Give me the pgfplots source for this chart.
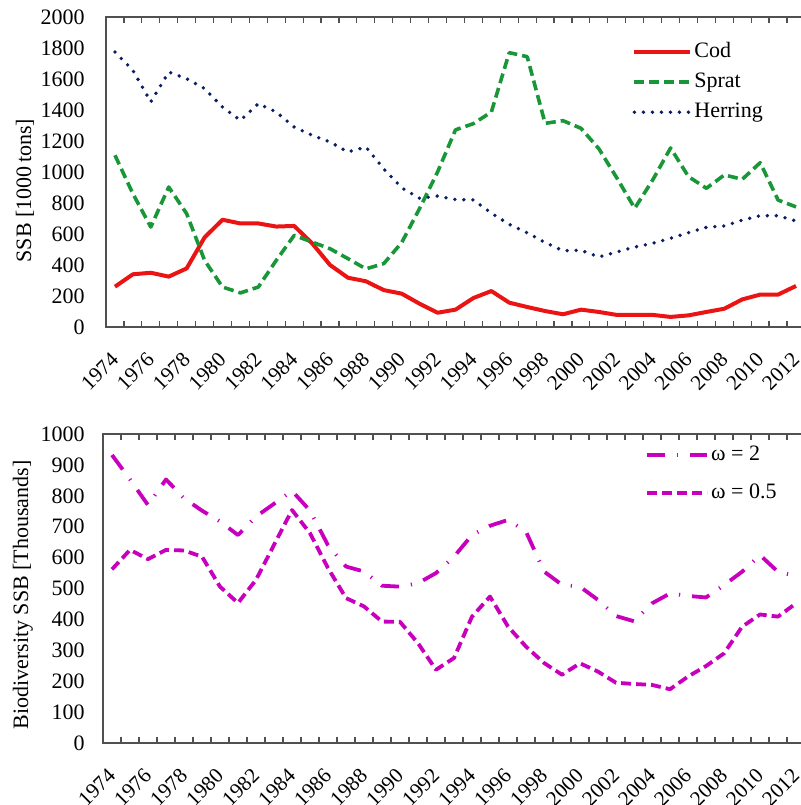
\documentclass[border=0pt]{standalone}
\usepackage{fontspec}
\setmainfont{Liberation Serif}
\usepackage{pgfplots}
\pgfplotsset{compat=1.18}
\definecolor{codred}{RGB}{235,20,20}
\definecolor{spratgreen}{RGB}{25,150,55}
\definecolor{herringblue}{RGB}{10,30,100}
\definecolor{omag}{RGB}{200,0,190}
\definecolor{axgray}{RGB}{80,80,80}

\pgfplotstableread{
year cod sprat herring
1974 260 1108 1774
1975 340 860 1656
1976 350 645 1452
1977 325 903 1645
1978 378 731 1602
1979 578 430 1538
1980 692 258 1419
1981 668 220 1333
1982 668 258 1441
1983 648 430 1387
1984 652 591 1290
1985 540 548 1237
1986 400 505 1194
1987 318 441 1129
1988 295 375 1161
1989 238 409 1020
1990 215 545 898
1991 150 765 830
1992 92 1000 845
1993 112 1272 822
1994 187 1312 820
1995 232 1387 735
1996 157 1770 662
1997 129 1744 608
1998 103 1314 545
1999 82 1331 492
2000 112 1282 495
2001 97 1150 452
2002 78 962 484
2003 78 766 516
2004 78 948 540
2005 65 1155 572
2006 75 970 609
2007 97 895 643
2008 118 981 652
2009 178 953 690
2010 209 1060 718
2011 209 819 718
2012 265 775 684
}\topdata

\pgfplotstableread{
year wtwo whalf
1974 932 562
1975 853 625
1976 770 595
1977 853 625
1978 792 623
1979 752 603
1980 717 506
1981 673 453
1982 733 528
1983 774 641
1984 816 754
1985 752 679
1986 640 566
1987 571 469
1988 555 442
1989 509 393
1990 506 392
1991 517 323
1992 550 237
1993 603 275
1994 673 409
1995 703 474
1996 722 377
1997 684 312
1998 555 259
1999 512 221
2000 506 258
2001 463 231
2002 411 195
2003 394 191
2004 452 188
2005 484 174
2006 476 215
2007 471 249
2008 511 290
2009 554 376
2010 608 416
2011 554 409
2012 540 452
}\botdata

\begin{document}
\begin{tikzpicture}
\useasboundingbox (0,0) rectangle (400pt,402.5pt);
\pgfplotsset{
  common/.style={
    scale only axis,
    xmin=1973.5, xmax=2012.5,
    ymin=0,
    xtick={1974,1976,...,2012},
    minor xtick={1973.5,1974.5,...,2012.5},
    major tick length=0pt,
    minor tick length=3pt,
    tick align=inside,
    ytick style={draw=none},
    xtick style={draw=axgray, line width=0.6pt},
    /pgf/number format/1000 sep={},
    /pgf/number format/assume math mode=true,
    tick label style={font=\fontsize{11}{13}\selectfont, text=black},
    xticklabel style={font=\fontsize{10.6}{12}\selectfont, yshift=-13pt, rotate=45, anchor=east, inner sep=0pt},
    xticklabel shift=1.5pt,
    axis line style={draw=axgray, line width=0.6pt},
    label style={font=\fontsize{11}{13}\selectfont},
    legend style={draw=none, fill=none, font=\fontsize{11}{13}\selectfont,
      anchor=north west, inner sep=0pt, column sep=1pt,
      nodes={inner sep=0pt, text height=7.5pt, text depth=2.2pt}},
    legend cell align=left,
  }
}
% top axis
\begin{axis}[common,
  at={(53pt,239pt)}, anchor=south west,
  width=349.5pt, height=155pt,
  ymax=2000, ytick={0,200,...,2000},
  yticklabel style={xshift=-7.2pt},
  ylabel={SSB [1000\,tons]},
  ylabel style={at={(axis description cs:-0.116,0.44)}, anchor=center},
  legend style={at={(axis description cs:0.7525,0.919)}, row sep=5.3pt},
  legend image code/.code={\draw[#1] (0pt,0pt) -- (28pt,0pt);},
]
\addplot[codred, line width=2pt, line join=round] table[x=year, y=cod] {\topdata};
\addlegendentry{Cod}
\addplot[spratgreen, line width=1.8pt, line join=round, dash pattern=on 5pt off 2.5pt] table[x=year, y=sprat] {\topdata};
\addlegendentry{Sprat}
\addplot[herringblue, line width=1.9pt, line cap=round, dash pattern=on 0pt off 4.5pt] table[x=year, y=herring] {\topdata};
\addlegendentry{Herring}
\end{axis}
% bottom axis
\begin{axis}[common,
  at={(51.5pt,31pt)}, anchor=south west,
  width=351pt, height=154.5pt,
  ymax=1000, ytick={0,100,...,1000},
  yticklabel style={xshift=-5.7pt},
  ylabel={Biodiversity SSB [Thousands]},
  ylabel style={at={(axis description cs:-0.114,0.479)}, anchor=center},
  legend style={at={(axis description cs:0.772,0.965)}, row sep=9.3pt},
  legend image code/.code={\draw[#1] (0pt,0pt) -- (30pt,0pt);},
]
\addplot[omag, line width=1.9pt, line join=round, dash pattern=on 9pt off 6pt on 0.6pt off 6pt] table[x=year, y=wtwo] {\botdata};
\addlegendentry{ω = 2}
\addplot[omag, line width=1.9pt, line join=round, dash pattern=on 5pt off 2.5pt] table[x=year, y=whalf] {\botdata};
\addlegendentry{ω = 0.5}
\end{axis}
\end{tikzpicture}
\end{document}
